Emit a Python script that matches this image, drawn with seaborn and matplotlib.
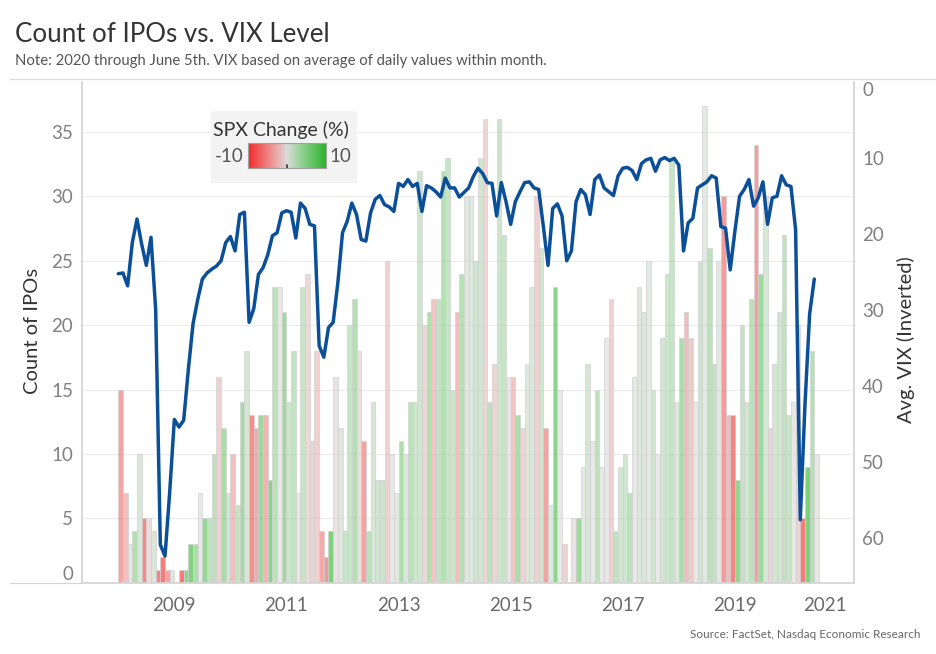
import numpy as np
import pandas as pd
import matplotlib
matplotlib.use("Agg")
import matplotlib.pyplot as plt
from matplotlib.colors import LinearSegmentedColormap, Normalize, to_rgba
from matplotlib.lines import Line2D
from matplotlib.patches import Rectangle
import seaborn as sns

# ---------------- data (monthly, Jan 2008 - Jun 2020) ----------------
start_month = "2008-01"
ipo_counts = [
    15, 7, 3, 4, 10, 5, 5, 4, 1, 2, 1, 1,          # 2008
    0, 1, 1, 3, 3, 7, 5, 5, 10, 16, 12, 7,         # 2009
    10, 6, 14, 18, 13, 12, 13, 13, 8, 23, 23, 21,  # 2010
    14, 18, 7, 23, 24, 11, 18, 4, 2, 4, 16, 12,    # 2011
    4, 20, 22, 18, 11, 4, 14, 8, 8, 25, 10, 7,     # 2012
    11, 10, 14, 14, 32, 20, 21, 22, 22, 32, 33, 15,  # 2013
    21, 24, 30, 30, 25, 33, 36, 14, 17, 36, 27, 16,  # 2014
    16, 13, 12, 17, 23, 30, 26, 12, 6, 23, 15, 3,  # 2015
    0, 5, 5, 9, 17, 11, 15, 9, 19, 22, 4, 9,       # 2016
    10, 7, 16, 23, 21, 25, 15, 10, 19, 24, 33, 14,  # 2017
    19, 21, 19, 14, 25, 37, 26, 17, 25, 30, 13, 13,  # 2018
    8, 20, 14, 22, 34, 24, 30, 12, 17, 21, 27, 13,  # 2019
    14, 20, 5, 9, 18, 10,                          # 2020
]
spx_change = [
    -6.1, -3.5, -0.6, 4.8, 1.1, -8.6, -1.0, 1.2, -9.1, -16.9, -6.0, 0.8,
    -8.6, -11.0, 8.5, 9.4, 5.3, 0.0, 7.4, 3.4, 3.6, -2.0, 5.7, 1.8,
    -3.7, 2.9, 5.9, 1.5, -8.2, -5.4, 6.9, -4.7, 8.8, 3.7, -0.2, 6.5,
    2.3, 3.2, -0.1, 2.8, -1.4, -1.8, -2.1, -5.7, -7.2, 10.8, -0.5, 0.9,
    2.5, 2.5, 4.5, -0.7, -6.3, 4.0, 1.3, 2.0, 2.4, -2.0, 0.3, 0.7,
    5.0, 1.1, 3.6, 1.8, 2.1, -1.5, 4.9, -3.1, 3.0, 4.5, 2.8, 2.4,
    -3.6, 4.3, 0.7, 0.6, 2.1, 1.9, -1.5, 3.8, -1.6, 2.3, 2.5, -0.4,
    -3.1, 5.5, -1.7, 0.9, 1.0, -2.1, 2.0, -6.3, 0.8, 8.3, 0.1, -1.8,
    -5.1, -0.4, 6.6, 0.3, 1.5, 0.1, 3.6, -0.1, -0.1, -1.9, 3.4, 1.8,
    1.8, 3.7, 0.0, 0.9, 1.2, 0.5, 1.9, 0.1, 1.9, 2.2, 2.8, 1.0,
    5.6, -3.9, -2.7, 0.3, 2.2, 0.5, 3.6, 3.0, 0.4, -6.9, -4.0, -9.2,
    7.9, 3.0, 1.8, 3.9, -6.6, 6.9, 1.3, -1.8, 1.7, 2.0, 3.4, 2.9,
    -0.2, -2.0, -12.5, 12.7, 4.5, 0.3,
]
vix_avg = [
    25.2, 25.1, 26.8, 21.1, 18.0, 21.3, 24.1, 20.4, 29.9, 60.9, 62.4, 54.0,
    44.4, 45.4, 44.5, 37.8, 31.8, 28.6, 25.9, 25.1, 24.6, 24.2, 23.5, 21.1,
    20.3, 22.2, 17.4, 17.1, 31.6, 29.8, 25.3, 24.4, 22.7, 20.2, 19.8, 17.2,
    16.9, 17.1, 20.5, 15.9, 16.6, 18.7, 18.9, 34.7, 36.2, 32.3, 31.6, 26.4,
    19.8, 18.3, 15.9, 17.4, 20.7, 20.9, 17.2, 15.4, 14.9, 16.1, 16.4, 17.0,
    13.3, 13.7, 12.8, 13.7, 13.3, 17.0, 13.6, 13.9, 14.4, 15.1, 12.6, 13.9,
    13.9, 15.1, 14.5, 13.9, 12.4, 11.3, 12.0, 13.2, 13.3, 17.6, 13.2, 15.7,
    18.7, 15.7, 14.4, 13.2, 13.1, 13.9, 14.1, 19.0, 24.1, 16.6, 16.0, 17.6,
    23.5, 22.2, 15.7, 14.1, 14.8, 17.4, 12.8, 12.2, 13.9, 14.4, 14.9, 12.3,
    11.3, 11.2, 11.6, 12.8, 10.7, 10.2, 10.0, 11.7, 10.2, 9.9, 10.3, 10.0,
    10.9, 22.2, 18.5, 17.9, 13.9, 13.5, 13.1, 12.3, 12.6, 19.0, 19.2, 24.7,
    19.6, 15.0, 14.1, 12.8, 16.3, 15.2, 13.1, 18.7, 15.2, 15.0, 12.3, 13.5,
    13.7, 19.4, 57.6, 42.5, 30.5, 25.9,
]
year_ticks = [2009, 2011, 2013, 2015, 2017, 2019, 2021]
ipo_ticks = [0, 5, 10, 15, 20, 25, 30, 35]
vix_ticks = [0, 10, 20, 30, 40, 50, 60]

months = pd.period_range(start_month, periods=len(ipo_counts), freq="M")
df = pd.DataFrame({
    "month": months.astype(str),
    "idx": np.arange(len(months)),
    "ipos": ipo_counts,
    "spx": spx_change,
    "vix": vix_avg,
})
df["bar_x"] = df["idx"] + 0.5

# ---------------- style ----------------
sns.set_theme(style="white")
plt.rcParams["font.family"] = ["Lato", "DejaVu Sans"]

W, H = 936, 654
fig = plt.figure(figsize=(W / 100, H / 100), dpi=100)


def fx(px):
    return px / W


def fy(py):
    return 1 - py / H


L, R, T, B = 82, 854, 82.4, 582.7
ax = fig.add_axes([fx(L), fy(B), (R - L) / W, (B - T) / H])

cmap = LinearSegmentedColormap.from_list(
    "spx",
    [(0.0, "#f52a2a"), (0.35, "#eca2a2"), (0.5, "#dbdbdb"),
     (0.65, "#9fd49f"), (1.0, "#2db52d")])
norm = Normalize(-10, 10)

sns.barplot(data=df, x="bar_x", y="ipos", native_scale=True, width=1.0,
            errorbar=None, ax=ax, color="#cccccc",
            edgecolor="#d2d2d2", linewidth=0.5)
for patch, v in zip(ax.patches, df["spx"]):
    patch.set_facecolor(to_rgba(cmap(norm(v)), 0.62))

ax2 = ax.twinx()
sns.lineplot(data=df, x="idx", y="vix", ax=ax2, color="#0b4f99",
             linewidth=2.5, solid_joinstyle="round", solid_capstyle="round")

xmin, xmax = -7.77, 157.5
ax.set_xlim(xmin, xmax)
ax.set_xticks([(y - 2008) * 12 for y in year_ticks])
ax.set_xticklabels([str(y) for y in year_ticks])
ax.set_ylim(0, 38.86)
ax.set_yticks(ipo_ticks)
ax.set_yticklabels([str(t) for t in ipo_ticks])
ax2.set_ylim(65.9, 0)
ax2.set_yticks(vix_ticks)
ax2.set_yticklabels([str(t) for t in vix_ticks])
ax2.set_xlim(xmin, xmax)

for a in (ax, ax2):
    a.set_xlabel("")
    a.set_ylabel("")

ax.set_axisbelow(True)
ax.yaxis.grid(True, color="#ececec", linewidth=0.9)
ax.xaxis.grid(False)
ax2.grid(False)

spine_c = "#d4d4d4"
for s in ("top", "right"):
    ax.spines[s].set_visible(False)
ax.spines["left"].set_color(spine_c)
ax.spines["bottom"].set_color(spine_c)
for s in ("top", "left", "bottom"):
    ax2.spines[s].set_visible(False)
ax2.spines["right"].set_color(spine_c)

ax.tick_params(axis="y", length=0, pad=6.5, labelsize=13.5, labelcolor="#808080")
ax.tick_params(axis="x", length=4, width=0.8, color="#cfcfcf", pad=6,
               labelsize=13.5, labelcolor="#6a6a6a")
ax2.tick_params(axis="y", length=0, pad=5.8, labelsize=13.5, labelcolor="#808080")

ax.yaxis.get_major_ticks()[0].label1.set_va("bottom")
ax2.yaxis.get_major_ticks()[0].label2.set_va("top")
ax.xaxis.get_major_ticks()[-1].label1.set_ha("right")

# lines outside axes
fig.add_artist(Line2D([fx(10), 1.0], [fy(79), fy(79)], color="#dedede", lw=1.0))
fig.add_artist(Line2D([fx(10), fx(L)], [fy(B), fy(B)], color=spine_c, lw=0.8))

# texts
fig.text(fx(15), fy(35), "Count of IPOs vs. VIX Level", fontsize=18.6,
         color="#333333", ha="left", va="center")
fig.text(fx(15), fy(61),
         "Note: 2020 through June 5th. VIX based on average of daily values within month.",
         fontsize=10.7, color="#555555", ha="left", va="center")
fig.text(fx(33), fy(331), "Count of IPOs", rotation=90, fontsize=14.5,
         color="#333333", ha="center", va="center")
fig.text(fx(906), fy(340), "Avg. VIX (Inverted)", rotation=90, fontsize=14.5,
         color="#333333", ha="center", va="center")
fig.text(fx(921), fy(635), "Source: FactSet, Nasdaq Economic Research",
         fontsize=8.5, color="#666666", ha="right", va="center")

# legend box
fig.add_artist(Rectangle((fx(211), fy(183)), (357 - 211) / W, (183 - 111) / H,
                         transform=fig.transFigure, facecolor="#f3f3f3",
                         edgecolor="none", zorder=10))
fig.text(fx(281), fy(130), "SPX Change (%)", fontsize=14, color="#333333",
         ha="center", va="center", zorder=11)
cax = fig.add_axes([fx(248), fy(168.3), (326 - 248) / W, (168.3 - 143.3) / H], zorder=11)
cax.imshow(np.linspace(-10, 10, 256)[None, :], cmap=cmap, aspect="auto",
           extent=[-10, 10, 0, 1])
cax.set_xticks([])
cax.set_yticks([])
for s in cax.spines.values():
    s.set_color("#a0a0a0")
    s.set_linewidth(0.8)
cax.plot([0, 0], [0, 0.14], color="#333333", lw=1.2)
cax.set_xlim(-10, 10)
cax.set_ylim(0, 1)
fig.text(fx(229), fy(156.5), "-10", fontsize=13.5, color="#555555",
         ha="center", va="center", zorder=11)
fig.text(fx(340), fy(156.5), "10", fontsize=13.5, color="#555555",
         ha="center", va="center", zorder=11)

fig.savefig("out.png", dpi=100)
